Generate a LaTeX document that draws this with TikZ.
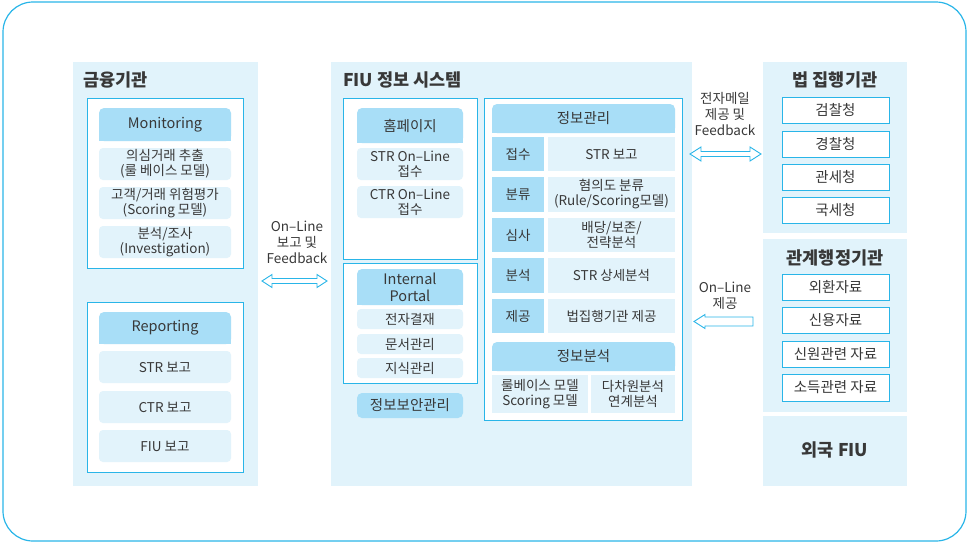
\documentclass[tikz,border=0pt]{standalone}
\usepackage{fontspec}
\setmainfont{Noto Sans CJK KR}
\definecolor{panelbg}{HTML}{E1F3FB}
\definecolor{hdrbg}{HTML}{A8DEF7}
\definecolor{itembg}{HTML}{E2F3FB}
\definecolor{bord}{HTML}{29B5E8}
\definecolor{txtc}{HTML}{383838}
\newcommand\Bx[7]{\node[#1, inner sep=0pt, minimum width={(#5-#3)*1pt}, minimum height={(#6-#4)*1pt}] (#2) at ({(#3+#5)/2},{(#4+#6)/2}) {#7};}
\newcommand\Hd[7]{\fill[hdrbg, rounded corners=5pt] (#3,#4) rectangle (#5,#6);
  \fill[hdrbg] (#3,{(#4+#6)/2}) rectangle (#5,#6);
  \node[txt, #1, inner sep=0pt, minimum width={(#5-#3)*1pt}, minimum height={(#6-#4)*1pt}] (#2) at ({(#3+#5)/2},{(#4+#6)/2}) {#7};}
\tikzset{
  txt/.style={text=txtc, align=center, font=\fontsize{13.5}{15}\selectfont},
  hfont/.style={font=\fontsize{14.5}{17}\selectfont},
  panel/.style={fill=panelbg},
  wbox/.style={fill=white, draw=bord, line width=1pt},
  item/.style={txt, fill=itembg, rounded corners=4pt},
  itemsq/.style={txt, fill=itembg},
  lab/.style={txt, fill=hdrbg},
  rbox/.style={txt, hfont, fill=white, draw=bord, line width=1pt},
  ttl/.style={text=txtc, font=\fontsize{17.5}{20}\selectfont\bfseries, inner sep=0pt},
  arr/.style={draw=bord, fill=white, line width=0.9pt, line join=miter},
  alab/.style={txt, font=\fontsize{13.5}{16}\selectfont}
}
\begin{document}
\begin{tikzpicture}[x=1pt,y=-1pt]
\useasboundingbox (0,0) rectangle (967,544);
\draw[bord, line width=1.2pt, rounded corners=30pt] (3,2) rectangle (966,541);

% ---- left panel
\Bx{panel}{panelL}{73}{62}{258}{486}{}
\node[ttl, anchor=west] (titleL) at (83,80) {금융기관};
\Bx{wbox}{monBox}{87}{98}{243}{268}{}
\Hd{hfont}{monHdr}{99}{108}{231}{141}{Monitoring}
\Bx{item}{mon1}{99}{148}{231}{180}{의심거래 추출\\(룰 베이스 모델)}
\Bx{item}{mon2}{99}{187}{231}{219}{고객/거래 위험평가\\(Scoring 모델)}
\Bx{item}{mon3}{99}{226}{231}{258}{분석/조사\\(Investigation)}
\Bx{wbox}{repBox}{87}{302}{243}{472}{}
\Hd{hfont}{repHdr}{99}{312}{231}{344}{Reporting}
\Bx{item}{rep1}{99}{351}{231}{383}{STR 보고}
\Bx{item}{rep2}{99}{391}{231}{423}{CTR 보고}
\Bx{item}{rep3}{99}{430}{231}{462}{FIU 보고}

% ---- middle panel
\Bx{panel}{panelM}{331}{62}{692}{486}{}
\node[ttl, anchor=west] (titleM) at (343,80) {FIU 정보 시스템};
\Bx{wbox}{hpBox}{343}{98}{477}{259}{}
\Hd{hfont}{hpHdr}{357}{108}{463}{143}{홈페이지}
\Bx{item}{hp1}{357}{148}{463}{180}{STR On–Line\\접수}
\Bx{item}{hp2}{357}{186}{463}{218}{CTR On–Line\\접수}
\Bx{wbox}{ipBox}{343}{263}{477}{383}{}
\Hd{hfont}{ipHdr}{357}{269}{463}{305}{Internal\\Portal}
\Bx{item}{ip1}{357}{309}{463}{329}{전자결재}
\Bx{item}{ip2}{357}{334}{463}{354}{문서관리}
\Bx{item}{ip3}{357}{358}{463}{378}{지식관리}
\Bx{txt, hfont, fill=hdrbg, rounded corners=5pt}{sec}{357}{393}{463}{418}{정보보안관리}

\Bx{wbox}{imBox}{484}{98}{682}{420}{}
\Hd{hfont}{imHdr}{492}{104}{675}{133}{정보관리}
\Bx{lab}{l1}{492}{137}{544}{171}{접수}
\Bx{itemsq}{c1}{548}{137}{675}{171}{STR 보고}
\Bx{lab}{l2}{492}{177}{544}{212}{분류}
\Bx{itemsq}{c2}{548}{177}{675}{212}{혐의도 분류\\(Rule/Scoring모델)}
\Bx{lab}{l3}{492}{218}{544}{252}{심사}
\Bx{itemsq}{c3}{548}{218}{675}{252}{배당/보존/\\전략분석}
\Bx{lab}{l4}{492}{258}{544}{293}{분석}
\Bx{itemsq}{c4}{548}{258}{675}{293}{STR 상세분석}
\Bx{lab}{l5}{492}{299}{544}{333}{제공}
\Bx{itemsq}{c5}{548}{299}{675}{333}{법집행기관 제공}
\Hd{hfont}{iaHdr}{492}{342}{675}{371}{정보분석}
\Bx{itemsq}{ia1}{492}{375}{588}{413}{룰베이스 모델\\Scoring 모델}
\Bx{itemsq}{ia2}{591}{375}{675}{413}{다차원분석\\연계분석}

% ---- right panels
\Bx{panel}{panelR1}{763}{62}{907}{233}{}
\node[ttl] (titleR1) at (835,80) {법 집행기관};
\Bx{rbox}{r11}{782}{97}{889}{123}{검찰청}
\Bx{rbox}{r12}{782}{131}{889}{157}{경찰청}
\Bx{rbox}{r13}{782}{164}{889}{190}{관세청}
\Bx{rbox}{r14}{782}{197}{889}{223}{국세청}
\Bx{panel}{panelR2}{763}{239}{907}{412}{}
\node[ttl] (titleR2) at (835,258) {관계행정기관};
\Bx{rbox}{r21}{782}{274}{889}{300}{외환자료}
\Bx{rbox}{r22}{782}{307}{889}{333}{신용자료}
\Bx{rbox}{r23}{782}{341}{889}{367}{신원관련 자료}
\Bx{rbox}{r24}{782}{374}{889}{401}{소득관련 자료}
\Bx{panel}{panelR3}{763}{416}{907}{486}{}
\node[ttl] (titleR3) at (835,450) {외국 FIU};

% ---- arrows and labels
\node[alab] (lblA) at (297,242) {On–Line\\보고 및\\Feedback};
\draw[arr] (262,281) -- (272,274.5) -- (272,278.5) -- (317,278.5) -- (317,274.5) -- (327,281)
  -- (317,287.5) -- (317,283.5) -- (272,283.5) -- (272,287.5) -- cycle;
\node[alab] (lblB) at (725,114) {전자메일\\제공 및\\Feedback};
\draw[arr] (690,154) -- (701,147) -- (701,151.5) -- (750,151.5) -- (750,147) -- (761,154)
  -- (750,161) -- (750,156.5) -- (701,156.5) -- (701,161) -- cycle;
\node[alab] (lblC) at (725,296) {On–Line\\제공};
\draw[arr] (694,321.5) -- (705,314.5) -- (705,317) -- (753,317) -- (753,326) -- (705,326)
  -- (705,328.5) -- cycle;
\end{tikzpicture}
\end{document}
